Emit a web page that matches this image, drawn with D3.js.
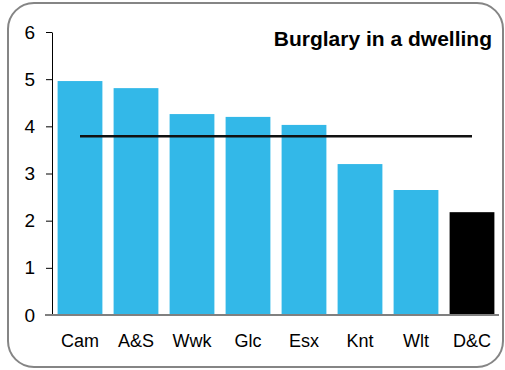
<!DOCTYPE html>
<html>
<head>
<meta charset="utf-8">
<script src="https://cdn.jsdelivr.net/npm/d3@7"></script>
<style>
  body { margin: 0; background: #fff; }
  svg { display: block; font-family: "Liberation Sans", Arial, sans-serif; }
</style>
</head>
<body>
<div id="chart"></div>
<script>
var categories = ["Cam", "A&S", "Wwk", "Glc", "Esx", "Knt", "Wlt", "D&C"];
var values = [4.96, 4.81, 4.26, 4.20, 4.03, 3.20, 2.65, 2.18];
var average = 3.79;
var yTicks = [0, 1, 2, 3, 4, 5, 6];
var highlight = "D&C";

var w = 505, h = 370;
var padLeft = 52, padRight = 500, padTop = 32, padBottom = 315;

var svg = d3.select("#chart").append("svg")
    .attr("width", w)
    .attr("height", h);

// rounded frame
svg.append("rect")
    .attr("x", 8).attr("y", 3)
    .attr("width", 495).attr("height", 364)
    .attr("rx", 26).attr("ry", 26)
    .attr("fill", "#fff")
    .attr("stroke", "#858585")
    .attr("stroke-width", 2);

var x = d3.scaleBand()
    .domain(categories)
    .range([padLeft, padRight])
    .paddingInner(0.2)
    .paddingOuter(0.1);

var y = d3.scaleLinear()
    .domain([0, 6])
    .range([padBottom, padTop]);

// bars
svg.selectAll("rect.bar")
    .data(categories)
    .enter()
    .append("rect")
    .attr("class", "bar")
    .attr("x", d => x(d))
    .attr("y", (d, i) => y(values[i]))
    .attr("width", x.bandwidth())
    .attr("height", (d, i) => padBottom - y(values[i]))
    .attr("fill", d => d === highlight ? "#000" : "#33b8e8");

// y axis
var yAxis = svg.append("g")
    .attr("transform", `translate(${padLeft},0)`)
    .call(d3.axisLeft(y).tickValues(yTicks).tickFormat(d3.format("d"))
        .tickSize(6).tickPadding(11).tickSizeOuter(0));
yAxis.select(".domain").attr("stroke", "#000");
yAxis.selectAll(".tick line").attr("stroke", "#000");
yAxis.selectAll("text")
    .attr("font-size", "19px")
    .attr("font-family", "Liberation Sans, Arial, sans-serif")
    .attr("fill", "#000");

// x axis
var xAxis = svg.append("g")
    .attr("transform", `translate(0,${padBottom})`)
    .call(d3.axisBottom(x).tickSize(0).tickPadding(19));
xAxis.select(".domain")
    .attr("d", `M${padLeft - 7},0H${padRight - 1}`)
    .attr("stroke", "#808080")
    .attr("stroke-width", 2);
xAxis.selectAll("text")
    .attr("font-size", "18px")
    .attr("font-family", "Liberation Sans, Arial, sans-serif")
    .attr("fill", "#000");

// average line
var line = d3.line()
    .x(d => x(d) + x.bandwidth() / 2)
    .y(() => y(average));
svg.append("path")
    .datum(categories)
    .attr("d", line)
    .attr("fill", "none")
    .attr("stroke", "#111")
    .attr("stroke-width", 2.5);

// title
svg.append("text")
    .attr("x", 492)
    .attr("y", 46)
    .attr("text-anchor", "end")
    .attr("font-size", "21px")
    .attr("font-weight", "bold")
    .text("Burglary in a dwelling");
</script>
</body>
</html>
